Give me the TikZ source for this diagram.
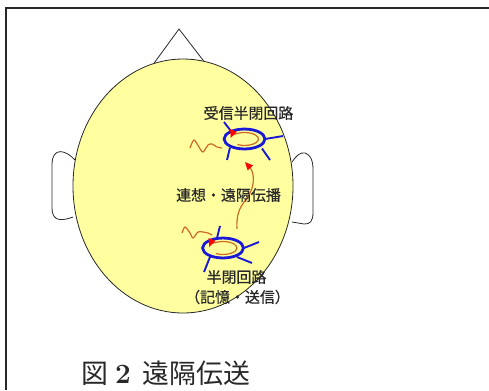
\documentclass[tikz,border=0pt]{standalone}
\usepackage{fontspec}
\newfontfamily\jp[FakeBold=0.6]{Noto Sans CJK JP}
\newfontfamily\jpcap{Noto Sans CJK JP}
\usetikzlibrary{arrows.meta,shapes.geometric}
\definecolor{headfill}{RGB}{255,255,160}
\definecolor{loopblue}{RGB}{25,25,215}
\definecolor{signal}{RGB}{205,105,35}
\definecolor{ink}{RGB}{40,40,40}
\begin{document}
\begin{tikzpicture}[x=1bp,y=-1bp,
  outline/.style={draw=ink,line width=0.8},
  circuit/.style={ellipse,draw=loopblue,line width=2.8,minimum width=41,minimum height=20,inner sep=0},
  spike/.style={draw=loopblue,line width=1.9},
  wave/.style={draw=signal,line width=1.2},
  redtip/.style={-{Triangle[color=red,length=8,width=7]}},
  label/.style={text=ink,font=\jp\fontsize{15}{16}\selectfont,inner sep=0}]
\useasboundingbox (0,0) rectangle (489,390);
% frame
\draw[ink,line width=1.6] (6,390) -- (6,8) -- (489,8);
% nose
\draw[outline] (152,66) -- (179,29) -- (206,64);
% ears
\draw[outline] (75,160) .. controls (66,150) and (52,146) .. (52,165)
  -- (52,208) .. controls (52,222) and (62,221) .. (73,217);
\draw[outline] (292,162) .. controls (296,156) and (300,152) .. (305,153)
  .. controls (313,156) and (313,165) .. (313,172) -- (313,212)
  .. controls (313,222) and (310,224) .. (304,224) -- (292,222);
% head
\draw[outline,fill=headfill] (183,186) ellipse [x radius=110, y radius=127];

% receiving circuit
\node[circuit] (recv) at (244.5,139) {};
\draw[spike] (224,122) -- (230.5,130.5);
\draw[spike] (265,139) -- (283,136);
\draw[spike] (230,147.5) -- (227,160);
\draw[spike] (262,148.5) -- (270,160);
\draw[wave,redtip] ([shift={(120:14 and 6.5)}]recv.center) arc [start angle=120,end angle=-170,x radius=14,y radius=6.5];
\draw[wave] plot[smooth] coordinates {(190,148) (194,140) (199,147) (203,152) (208,145) (212,144) (217,147) (222,148)};

% sending circuit
\node[circuit] (send) at (223,248) {};
\draw[spike] (217,238) -- (220,226);
\draw[spike] (244,248) -- (259,242);
\draw[spike] (210,257) -- (204,272);
\draw[spike] (237,257) -- (252,263);
\draw[wave,redtip] ([shift={(120:14 and 6.5)}]send.center) arc [start angle=120,end angle=-170,x radius=14,y radius=6.5];
\draw[wave] plot[smooth] coordinates {(182,233) (185,227) (190,233) (193,238) (198,232) (203,232) (208,233) (212,235)};

% propagation from sender to receiver
\coordinate (sendout) at (237,229);
\coordinate (recvin) at (245,162);
\draw[wave,redtip] (sendout) .. controls (236,212) and (241,206) .. (247,198)
  .. controls (256,186) and (254,172) .. (recvin);

% labels
\node[label] (recvlabel) at (248.5,113) {受信半閉回路};
\node[label] (proplabel) at (228.5,195) {連想・遠隔伝播};
\node[label] (sendlabel) at (236.5,277) {半閉回路};
\node[label] (sendnote) at (237.5,297) {（記憶・送信）};

% caption
\node[anchor=west,inner sep=0,text=ink,font=\fontsize{27}{29}\selectfont] (caption) at (81,373)
  {{\jpcap 図}\hspace{7bp}{\bfseries\fontsize{28}{28}\selectfont 2}\hspace{12bp}{\jpcap 遠隔伝送}};
\end{tikzpicture}
\end{document}
